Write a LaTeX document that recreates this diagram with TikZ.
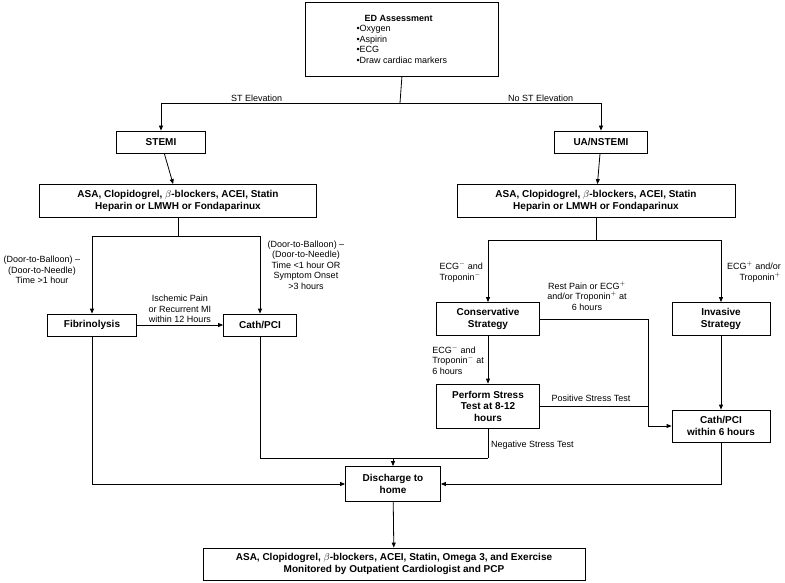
\documentclass[tikz,border=0pt]{standalone}
\usepackage{fontspec}
\setmainfont{Liberation Sans}
\usetikzlibrary{arrows.meta,positioning}
\tikzset{
  >={Triangle[length=5pt,width=4pt]},
  x=1pt,y=-1pt,
  font=\fontsize{9}{10.5}\selectfont,
  rect/.style={draw,thick,fill=white,shape=rectangle,align=center,font=\fontsize{10}{11.5}\selectfont\bfseries,inner sep=1mm},
  line/.style={draw,thick},
  arr/.style={draw,thick,->},
  lbl/.style={align=center,inner sep=1pt}
}
\begin{document}
\begin{tikzpicture}
  \useasboundingbox (0,0) rectangle (785,583);
  % boxes
  \node (ed) [rect,minimum width=193,minimum height=74,align=left,anchor=north west,font=\fontsize{9}{10.5}\selectfont] at (305,2)
    {\hspace*{8pt}\textbf{ED Assessment}\\ \textbullet Oxygen\\ \textbullet Aspirin\\ \textbullet ECG\\ \textbullet Draw cardiac markers};
  \node (stemi) [rect,minimum width=89,minimum height=22] at (161,142) {STEMI};
  \node (nstemi) [rect,minimum width=93,minimum height=22] at (601,142) {UA/NSTEMI};
  \node (asaL) [rect,minimum width=277,minimum height=33] at (178,201) {ASA, Clopidogrel, $\beta$-blockers, ACEI, Statin\\ Heparin or LMWH or Fondaparinux};
  \node (asaR) [rect,minimum width=278,minimum height=33] at (596,201) {ASA, Clopidogrel, $\beta$-blockers, ACEI, Statin\\ Heparin or LMWH or Fondaparinux};
  \node (fib) [rect,minimum width=89,minimum height=22] at (92,325) {Fibrinolysis};
  \node (cath) [rect,minimum width=73,minimum height=22] at (260,325) {Cath/PCI};
  \node (cons) [rect,minimum width=103,minimum height=33] at (488,319) {Conservative\\ Strategy};
  \node (inv) [rect,minimum width=98,minimum height=33] at (721,319) {Invasive\\ Strategy};
  \node (stress) [rect,minimum width=103,minimum height=44] at (488,406) {Perform Stress\\ Test at 8-12\\ hours};
  \node (cathsix) [rect,minimum width=98,minimum height=32] at (721,426) {Cath/PCI\\ within 6 hours};
  \node (disch) [rect,minimum width=95,minimum height=35] at (393,484) {Discharge to\\ home};
  \node (final) [rect,minimum width=382,minimum height=32] at (394,564) {ASA, Clopidogrel, $\beta$-blockers, ACEI, Statin, Omega 3, and Exercise\\ Monitored by Outpatient Cardiologist and PCP};
  % junctions
  \coordinate (edj) at (400,103);
  \coordinate (asaLj) at (178,236);
  \coordinate (asaRj) at (596,240);
  \coordinate (negj) at (488,458);
  \coordinate (restj) at (648,426);
  % connectors
  \path [line] (ed.south) -- (edj);
  \path [arr] (edj) -| (stemi.north) node[lbl,pos=0.3,above] {ST Elevation};
  \path [arr] (edj) -| (nstemi.north) node[lbl,pos=0.35,above] {No ST Elevation};
  \path [arr] (stemi) -- (asaL);
  \path [arr] (nstemi) -- (asaR);
  \path [line] (asaL.south) -- (asaLj);
  \path [arr] (asaLj) -| (fib.north);
  \path [arr] (asaLj) -| (cath.north);
  \path [arr] (fib) -- (cath) node[lbl,midway,above=1pt] {Ischemic Pain\\ or Recurrent MI\\ within 12 Hours};
  \path [line] (asaR.south) -- (asaRj);
  \path [arr] (asaRj) -| (cons.north);
  \path [arr] (asaRj) -| (inv.north);
  \path [arr] (cons) -- (stress);
  \path [arr] (inv) -- (cathsix);
  \path [line] (cons.east) -| (restj);
  \path [arr] (restj) -- (cathsix.west);
  \path [line] (stress.east) -- (stress.east -| restj);
  \path [line] (stress.south) -- (negj);
  \path [line] (cath.south) |- (negj);
  \path [arr] (disch.north |- negj) -- (disch.north);
  \path [arr] (fib.south) |- (disch.west);
  \path [arr] (cathsix.south) |- (disch.east);
  \path [arr] (disch) -- (final);
  % labels
  \node [lbl] at (42,270) {(Door-to-Balloon) --\\ (Door-to-Needle)\\ Time >1 hour};
  \node [lbl] at (306,265) {(Door-to-Balloon) --\\ (Door-to-Needle)\\ Time <1 hour OR\\ Symptom Onset\\ >3 hours};
  \node [lbl,align=left,anchor=east] at (484,272) {ECG$^{-}$ and\\ Troponin$^{-}$};
  \node [lbl,align=right,anchor=east] at (782,272) {ECG$^{+}$ and/or\\ Troponin$^{+}$};
  \node [lbl] at (587,296) {Rest Pain or ECG$^{+}$\\ and/or Troponin$^{+}$ at\\ 6 hours};
  \node [lbl,align=left,anchor=east] at (485,360) {ECG$^{-}$ and\\ Troponin$^{-}$ at\\ 6 hours};
  \node [lbl] at (591,398) {Positive Stress Test};
  \node [lbl,anchor=west] at (490,445) {Negative Stress Test};
\end{tikzpicture}
\end{document}
